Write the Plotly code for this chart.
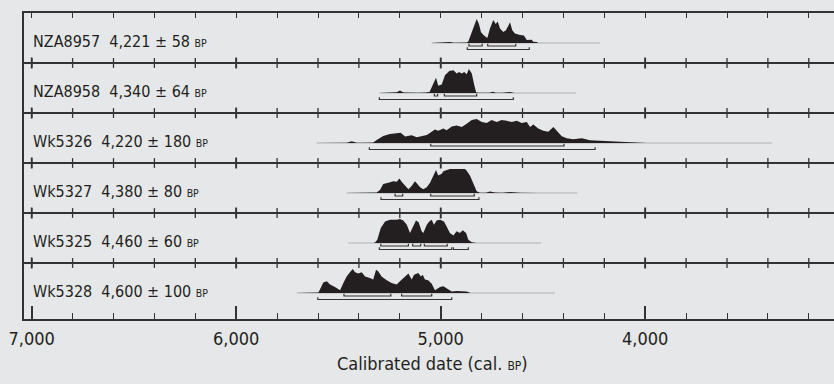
import plotly.graph_objects as go

# ---------------- data ----------------
codes = ["NZA8957", "NZA8958", "Wk5326", "Wk5327", "Wk5325", "Wk5328"]
ages = [4221, 4340, 4220, 4380, 4460, 4600]
errors = [58, 64, 180, 80, 60, 100]

nza8957_years = [5044, 4975, 4955, 4935, 4900, 4873, 4865, 4857, 4841, 4824, 4813, 4803, 4788, 4772,
                 4759, 4743, 4731, 4721, 4710, 4694, 4681, 4661, 4650, 4637, 4612, 4593, 4579, 4555,
                 4547, 4531, 4523, 4433]
nza8957_prob = [0.0, 0.01, 0.04, 0.01, 0.01, 0.02, 0.06, 0.23, 0.65, 1.0, 0.79, 0.45, 0.31, 0.21,
                0.6, 0.96, 0.79, 0.9, 0.6, 0.46, 0.53, 0.86, 0.53, 0.4, 0.33, 0.31, 0.12, 0.14,
                0.05, 0.04, 0.0, 0.0]
nza8957_r68 = [(4862, 4797), (4770, 4633)]
nza8957_r95 = [(4870, 4567)]
nza8957_span = (5044, 4221)

nza8958_years = [5297, 5248, 5215, 5199, 5185, 5174, 5150, 5130, 5110, 5077, 5055, 5044, 5030, 5023,
                 5012, 4995, 4979, 4958, 4938, 4922, 4910, 4897, 4885, 4873, 4862, 4848, 4837, 4827,
                 4817, 4790, 4760, 4746, 4730, 4700, 4661, 4640, 4531]
nza8958_prob = [0.0, 0.02, 0.03, 0.1, 0.03, 0.02, 0.01, 0.03, 0.01, 0.02, 0.04, 0.24, 0.55, 0.64,
                0.3, 0.35, 0.74, 0.92, 0.95, 0.81, 0.88, 0.81, 0.88, 0.78, 1.0, 0.81, 0.38, 0.03,
                0.01, 0.01, 0.01, 0.05, 0.01, 0.01, 0.04, 0.005, 0.003]
nza8958_r68 = [(5031, 5015), (4982, 4824)]
nza8958_r95 = [(5300, 4645)]
nza8958_span = (5300, 4338)

wk5326_years = [5606, 5541, 5460, 5435, 5410, 5378, 5330, 5313, 5281, 5248, 5207, 5196, 5174, 5142,
                5117, 5093, 5068, 5044, 5028, 5012, 4987, 4971, 4946, 4922, 4897, 4873, 4848, 4824,
                4799, 4775, 4751, 4726, 4702, 4677, 4653, 4628, 4604, 4579, 4563, 4547, 4523, 4498,
                4474, 4449, 4433, 4408, 4384, 4352, 4310, 4270, 4221, 4172, 4148, 4090, 3993]
wk5326_prob = [0.0, 0.01, 0.01, 0.07, 0.01, 0.01, 0.02, 0.13, 0.29, 0.37, 0.4, 0.43, 0.27, 0.32,
               0.24, 0.27, 0.33, 0.47, 0.56, 0.51, 0.6, 0.53, 0.69, 0.73, 0.67, 0.8, 0.96, 1.0,
               0.87, 0.83, 0.96, 0.87, 0.96, 0.93, 0.87, 0.93, 0.83, 0.87, 0.67, 0.77, 0.6, 0.51,
               0.47, 0.67, 0.53, 0.28, 0.2, 0.16, 0.2, 0.11, 0.09, 0.07, 0.05, 0.02, 0.005]
wk5326_r68 = [(5049, 4397)]
wk5326_r95 = [(5349, 4245)]
wk5326_span = (5606, 3381)

wk5327_years = [5460, 5395, 5313, 5297, 5281, 5256, 5232, 5215, 5202, 5191, 5174, 5158, 5142, 5126,
                5114, 5101, 5085, 5068, 5052, 5039, 5023, 5012, 4995, 4987, 4971, 4955, 4881, 4873,
                4857, 4841, 4824, 4808, 4780, 4759, 4734, 4700, 4661, 4612, 4531]
wk5327_prob = [0.0, 0.01, 0.02, 0.13, 0.37, 0.43, 0.49, 0.47, 0.6, 0.47, 0.29, 0.16, 0.29, 0.49,
               0.37, 0.24, 0.16, 0.24, 0.43, 0.67, 0.96, 0.73, 0.8, 0.91, 0.96, 1.0, 1.0, 0.93,
               0.73, 0.4, 0.07, 0.01, 0.01, 0.06, 0.02, 0.01, 0.04, 0.01, 0.003]
wk5327_r68 = [(5223, 5186), (5049, 4836)]
wk5327_r95 = [(5292, 4813)]
wk5327_span = (5460, 4332)

wk5325_years = [5330, 5321, 5310, 5293, 5272, 5248, 5215, 5199, 5183, 5166, 5150, 5137, 5121, 5108,
                5093, 5085, 5068, 5056, 5044, 5033, 5020, 5003, 4984, 4971, 4955, 4938, 4922, 4906,
                4892, 4876, 4865, 4848, 4824]
wk5325_prob = [0.0, 0.02, 0.14, 0.63, 0.9, 0.97, 0.97, 1.0, 0.94, 0.76, 0.42, 0.63, 0.94, 0.86,
               0.49, 0.42, 0.76, 0.9, 0.97, 0.76, 0.94, 0.97, 0.9, 0.69, 0.42, 0.31, 0.49, 0.42,
               0.53, 0.42, 0.14, 0.03, 0.01]
wk5325_r68 = [(5293, 5158), (5137, 5098), (5080, 4968)]
wk5325_r95 = [(5300, 4946), (4938, 4865)]
wk5325_span = (5452, 4509)

wk5328_years = [5704, 5598, 5587, 5574, 5557, 5541, 5517, 5492, 5476, 5460, 5444, 5430, 5419, 5403,
                5386, 5370, 5346, 5330, 5316, 5305, 5289, 5264, 5240, 5215, 5199, 5174, 5158, 5142,
                5130, 5110, 5096, 5088, 5077, 5061, 5044, 5028, 5003, 4987, 4968, 4946, 4922, 4897,
                4873, 4857]
wk5328_prob = [0.0, 0.02, 0.21, 0.44, 0.49, 0.35, 0.25, 0.11, 0.42, 0.69, 0.86, 1.0, 0.86, 0.81,
               0.86, 0.69, 0.63, 0.56, 0.97, 0.9, 0.69, 0.53, 0.42, 0.35, 0.49, 0.69, 0.81, 0.56,
               0.76, 0.83, 0.69, 0.76, 0.56, 0.53, 0.39, 0.11, 0.25, 0.28, 0.17, 0.06, 0.08, 0.08,
               0.06, 0.01]
wk5328_r68 = [(5473, 5244), (5191, 5044)]
wk5328_r95 = [(5601, 4946)]
wk5328_span = (5704, 4441)

axis_major = [7000, 6000, 5000, 4000]
axis_major_text = ["7,000", "6,000", "5,000", "4,000"]
axis_minor = list(range(7000, 3000, -200))

rows = [
    (nza8957_years, nza8957_prob, nza8957_r68, nza8957_r95, nza8957_span),
    (nza8958_years, nza8958_prob, nza8958_r68, nza8958_r95, nza8958_span),
    (wk5326_years, wk5326_prob, wk5326_r68, wk5326_r95, wk5326_span),
    (wk5327_years, wk5327_prob, wk5327_r68, wk5327_r95, wk5327_span),
    (wk5325_years, wk5325_prob, wk5325_r68, wk5325_r95, wk5325_span),
    (wk5328_years, wk5328_prob, wk5328_r68, wk5328_r95, wk5328_span),
]

# ---------------- layout constants (pixels) ----------------
W, H = 834, 384
ML, MR, MT, MB = 24, 0, 13, 65
PH = H - MT - MB          # plot height in px
ROW_H = 50
BASE_OFF = 30
PEAK = 24
OFF68, OFF95 = 3.0, 6.5
BG = "#e6e7e8"
INK = "#231f20"
LINE = "#333333"
FONT = "DejaVu Sans Condensed, DejaVu Sans, sans-serif"

fig = go.Figure()

for i, (yrs, prob, r68, r95, span) in enumerate(rows):
    base = i * ROW_H + BASE_OFF
    # light grey baseline (extent of the likelihood)
    fig.add_trace(go.Scatter(x=[span[0], span[1]], y=[base, base], mode="lines",
                             line=dict(color="#c2c2c2", width=1.5), hoverinfo="skip",
                             showlegend=False))
    # filled distribution
    tops = [base - PEAK * p for p in prob]
    fig.add_trace(go.Scatter(x=list(yrs) + list(yrs[::-1]), y=tops + [base] * len(yrs),
                             mode="lines", fill="toself", fillcolor=INK,
                             line=dict(color=INK, width=0), hoverinfo="skip",
                             showlegend=False))
    # range brackets
    bx, by = [], []
    for rng, off in [(r68, OFF68), (r95, OFF95)]:
        yb = base + off
        for a, b in rng:
            bx += [a, a, b, b, None]
            by += [yb - 2.2, yb, yb, yb - 2.2, None]
    fig.add_trace(go.Scatter(x=bx, y=by, mode="lines",
                             line=dict(color=LINE, width=1.2), hoverinfo="skip",
                             showlegend=False))
    # label
    fig.add_annotation(xref="paper", yref="y", x=(31.0 - ML) / (W - ML - MR),
                       y=i * ROW_H + 28, xanchor="left", yanchor="middle", showarrow=False,
                       text=f"{codes[i]}\u00a0\u00a0{ages[i]:,}\u00a0±\u00a0{errors[i]} "
                            f"<span style='font-size:10.5px'>BP</span>",
                       font=dict(family=FONT, size=16, color=INK))

# row separators with crossing tick marks
for k in range(1, len(rows)):
    fig.add_shape(type="line", xref="paper", yref="y", x0=0, x1=1, y0=k * ROW_H, y1=k * ROW_H,
                  line=dict(color=LINE, width=1.8))
sep_x = [v for k in range(1, len(rows)) for v in axis_minor]
sep_y = [k * ROW_H for k in range(1, len(rows)) for v in axis_minor]
fig.add_trace(go.Scatter(x=sep_x, y=sep_y, mode="markers", hoverinfo="skip", showlegend=False,
                         marker=dict(symbol="line-ns", size=7,
                                     line=dict(color=LINE, width=1.3))))
maj_x = [v for k in range(1, len(rows)) for v in axis_major]
maj_y = [k * ROW_H for k in range(1, len(rows)) for v in axis_major]
fig.add_trace(go.Scatter(x=maj_x, y=maj_y, mode="markers", hoverinfo="skip", showlegend=False,
                         marker=dict(symbol="cross-thin", size=8,
                                     line=dict(color=LINE, width=1.8))))

# axis title
fig.add_annotation(xref="paper", yref="paper", x=(432.5 - ML) / (W - ML - MR),
                   y=-(363 - (MT + PH)) / PH, xanchor="center", yanchor="middle",
                   showarrow=False,
                   text="Calibrated date (cal. <span style='font-size:12px'>BP</span>)",
                   font=dict(family=FONT, size=18, color=INK))

x_left = 7000 + (31.7 - ML) / 0.2045
x_right = 7000 - (W - MR - 31.7) / 0.2045

fig.update_layout(
    width=W, height=H, margin=dict(l=ML, r=MR, t=MT, b=MB),
    paper_bgcolor=BG, plot_bgcolor=BG, showlegend=False,
    xaxis=dict(range=[x_left, x_right], tickmode="array", tickvals=axis_major,
               ticktext=axis_major_text, ticks="inside", ticklen=13, tickwidth=1.5,
               tickcolor=LINE, showline=True, linecolor=LINE, linewidth=2, showgrid=False,
               zeroline=False, ticklabelstandoff=2,
               tickfont=dict(family=FONT, size=18, color=INK),
               minor=dict(tickmode="array", tickvals=axis_minor, ticks="inside", ticklen=6,
                          tickwidth=1.3, tickcolor=LINE, showgrid=False)),
    xaxis2=dict(range=[x_left, x_right], overlaying="x", side="top", anchor="y",
                tickmode="array", tickvals=axis_minor, showticklabels=False, ticks="inside",
                ticklen=5, tickwidth=1.3, tickcolor=LINE, showline=True, linecolor=LINE,
                linewidth=2, showgrid=False, zeroline=False),
    yaxis=dict(range=[PH, 0], showline=True, linecolor=LINE, linewidth=2, showgrid=False,
               zeroline=False, showticklabels=False, ticks=""),
)
# dummy trace to activate the top axis
fig.add_trace(go.Scatter(x=[5000], y=[0], xaxis="x2", mode="markers", opacity=0,
                         hoverinfo="skip", showlegend=False))

fig.write_html("out.html")
